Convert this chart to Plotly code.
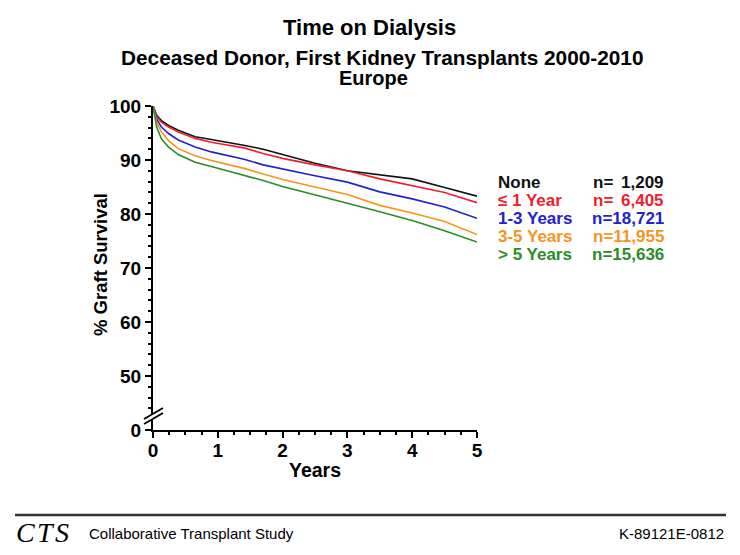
import plotly.graph_objects as go

# ---- data ----
years = [0, 0.057, 0.13, 0.24, 0.39, 0.65, 0.9, 1.16, 1.42, 1.7, 2.0, 2.5, 3.0, 3.5, 4.0, 4.5, 5.0]
surv_none = [100, 98.3, 97.3, 96.4, 95.5, 94.3, 93.8, 93.3, 92.7, 92.0, 91.0, 89.4, 88.0, 87.3, 86.5, 84.9, 83.3]
surv_le1 = [100, 98.1, 97.0, 96.1, 95.2, 94.0, 93.3, 92.7, 92.2, 91.2, 90.3, 89.1, 88.0, 86.5, 85.2, 84.0, 82.1]
surv_1_3 = [100, 97.6, 96.1, 94.9, 93.7, 92.4, 91.5, 90.8, 90.1, 89.1, 88.4, 87.1, 85.9, 84.1, 82.8, 81.3, 79.2]
surv_3_5 = [100, 97.0, 95.2, 93.6, 92.1, 90.8, 89.9, 89.2, 88.4, 87.4, 86.4, 85.0, 83.6, 81.6, 80.2, 78.6, 76.2]
surv_gt5 = [100, 96.1, 93.9, 92.4, 91.0, 89.6, 88.8, 88.0, 87.1, 86.2, 85.1, 83.6, 82.0, 80.4, 78.8, 76.9, 74.8]

group_labels = ["None", "\u2264 1 Year", "1-3 Years", "3-5 Years", "> 5 Years"]
group_n = ["1,209", "6,405", "18,721", "11,955", "15,636"]
group_colors = ["#111111", "#ee2030", "#2222cc", "#f7941d", "#2a8c2a"]
series = [surv_none, surv_le1, surv_1_3, surv_3_5, surv_gt5]

y_tickvals = [40, 50, 60, 70, 80, 90, 100]
y_ticktext = ["0", "50", "60", "70", "80", "90", "100"]
x_tickvals = [0, 1, 2, 3, 4, 5]

W, H = 740, 555
L, R, T, B = 153, 477, 106, 430  # plot area in pixels


def px(xp):
    return (xp - L) / (R - L)


def py(yp):
    return (B - yp) / (B - T)


fig = go.Figure()
for vals, name, col in zip(series, group_labels, group_colors):
    fig.add_trace(go.Scatter(x=years, y=vals, mode="lines", name=name,
                             line=dict(color=col, width=1.6), showlegend=False))

FONT = "Liberation Sans, Arial, sans-serif"
fig.update_layout(
    width=W, height=H,
    margin=dict(l=L, r=W - R, t=T, b=H - B, pad=0),
    paper_bgcolor="white", plot_bgcolor="white",
    font=dict(family=FONT, color="black"),
    xaxis=dict(range=[0, 5], tickvals=x_tickvals, showgrid=False, zeroline=False,
               showline=True, linecolor="black", linewidth=2,
               ticks="outside", ticklen=6, tickwidth=2, tickcolor="black",
               ticklabelstandoff=-4,
               tickfont=dict(size=19, family=FONT, weight="bold"),
               minor=dict(dtick=0.25, ticks="outside", ticklen=3, tickwidth=1.5, tickcolor="black")),
    yaxis=dict(range=[40, 100], tickvals=y_tickvals, ticktext=y_ticktext, showgrid=False,
               zeroline=False, showline=True, linecolor="black", linewidth=2,
               ticks="outside", ticklen=6, tickwidth=2, tickcolor="black",
               tickfont=dict(size=19, family=FONT, weight="bold"),
               minor=dict(tickvals=[v for v in range(44, 100, 2) if v % 10 != 0],
                          ticks="outside", ticklen=3, tickwidth=1.5, tickcolor="black")),
)

ann = []
# titles
ann.append(dict(x=px(369), y=py(27), text="<b>Time on Dialysis</b>", font=dict(size=22)))
ann.append(dict(x=px(382), y=py(57), text="<b>Deceased Donor, First Kidney Transplants 2000-2010</b>", font=dict(size=20.8)))
ann.append(dict(x=px(373), y=py(78), text="<b>Europe</b>", font=dict(size=20)))
# axis titles
ann.append(dict(x=px(315), y=py(470), text="<b>Years</b>", font=dict(size=19.5)))
ann.append(dict(x=px(100), y=py(265), text="<b>% Graft Survival</b>", font=dict(size=18.5), textangle=-90))
# legend
row_y = [182, 200, 218, 236, 254]
for lab, n, col, ry in zip(group_labels, group_n, group_colors, row_y):
    ann.append(dict(x=px(496), y=py(ry), text="<b>" + lab + "</b>", xanchor="left",
                    font=dict(size=17, color=col)))
    if len(n) < 6:
        ann.append(dict(x=px(591), y=py(ry), text="<b>n=</b>", xanchor="left",
                        font=dict(size=17, color=col)))
        ann.append(dict(x=px(666), y=py(ry), text="<b>" + n + "</b>", xanchor="right",
                        font=dict(size=17, color=col)))
    else:
        ann.append(dict(x=px(666), y=py(ry), text="<b>n=" + n + "</b>", xanchor="right",
                        font=dict(size=17, color=col)))
# footer
ann.append(dict(x=px(14), y=py(532), text="<i>C\u200aT\u200aS</i>", xanchor="left",
                font=dict(size=28, family="Liberation Serif, Times New Roman, serif")))
ann.append(dict(x=px(87), y=py(533), text="Collaborative Transplant Study", xanchor="left",
                font=dict(size=15)))
ann.append(dict(x=px(726), y=py(533), text="K-89121E-0812", xanchor="right",
                font=dict(size=15)))
for a in ann:
    a.setdefault("xanchor", "center")
    a.update(xref="paper", yref="paper", yanchor="middle", showarrow=False)
    a["font"].setdefault("family", FONT)
    a["font"].setdefault("color", "black")
fig.update_layout(annotations=ann)

# axis break marks and footer rule
shapes = [
    dict(type="path", xref="paper", yref="paper",
         path=f"M {px(146)} {py(418)} L {px(161)} {py(409)} L {px(161)} {py(414)} L {px(146)} {py(423)} Z",
         fillcolor="white", line=dict(width=0), layer="above"),
    dict(type="line", xref="paper", yref="paper", x0=px(144), y0=py(419), x1=px(163), y1=py(408),
         line=dict(color="black", width=1.8), layer="above"),
    dict(type="line", xref="paper", yref="paper", x0=px(144), y0=py(424), x1=px(163), y1=py(413),
         line=dict(color="black", width=1.8), layer="above"),
    dict(type="line", xref="paper", yref="paper", x0=px(15), y0=py(515), x1=px(726), y1=py(515),
         line=dict(color="#333333", width=2.5)),
]
fig.update_layout(shapes=shapes)

fig.write_html("out.html", config={"displayModeBar": False},
               post_script="document.body.style.margin='0';document.body.style.overflow='hidden';")
